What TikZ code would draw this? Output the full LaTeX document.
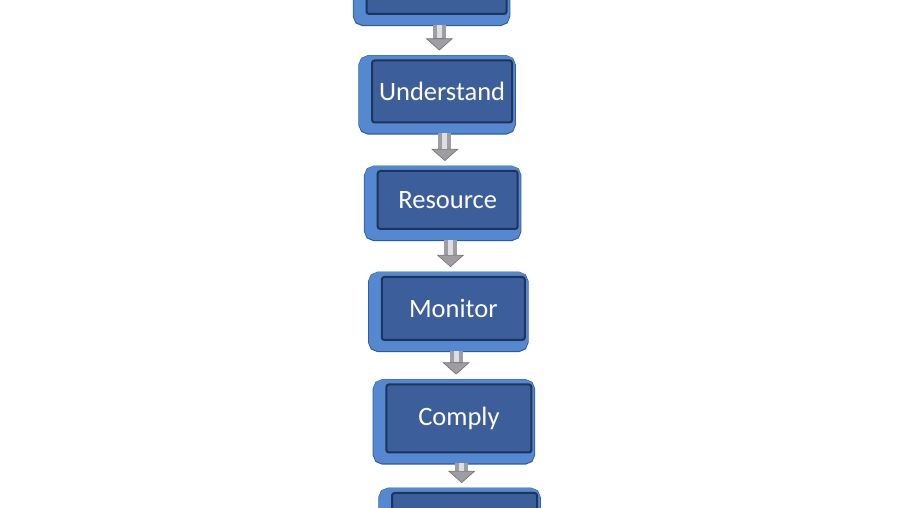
\documentclass[tikz,border=0pt]{standalone}
\usepackage{fontspec}
\setmainfont{Carlito}
\usetikzlibrary{positioning, arrows.meta}

\definecolor{stageface}{RGB}{60,94,154}
\definecolor{stagerim}{RGB}{84,136,208}
\definecolor{stageouter}{RGB}{50,88,150}
\definecolor{stageedge}{RGB}{30,52,92}
\definecolor{flowgray}{RGB}{158,158,162}
\definecolor{flowlight}{RGB}{222,222,226}

\tikzset{
  stage/.style={draw=stageedge, line width=2pt, fill=stageface, rounded corners=2.5pt,
    minimum width=140pt, minimum height=62pt, text=white,
    font=\fontsize{26.5}{30}\selectfont,
    preaction={draw=stageouter, line width=17.5pt, transform canvas={xshift=-5pt, yshift=-3.4pt}},
    preaction={draw=stagerim, line width=16pt, transform canvas={xshift=-5pt, yshift=-3pt}}},
  flow/.style={draw=flowgray, line width=13pt, shorten <=10pt, shorten >=9pt,
    -{Triangle[width=27pt, length=12pt, line width=0.6pt, fill=flowgray, color=flowgray!70!black]},
    postaction={draw=flowlight, line width=5pt, -, shorten <=10pt, shorten >=21pt}}
}

\begin{document}
\begin{tikzpicture}[x=1pt, y=1pt, node distance=108.5pt, on grid]
  \useasboundingbox (0,0) rectangle (904,508);
  \node[stage] (first) at (436.5,525) {};
  \node[stage] (und) [below right=108.5pt and 5.6pt of first] {Understand};
  \node[stage, minimum height=58pt] (res) [below right=108.5pt and 5.6pt of und] {Resource};
  \node[stage, minimum width=143pt, minimum height=63pt] (mon) [below right=108.5pt and 5.6pt of res] {Monitor};
  \node[stage, minimum width=145pt, minimum height=68pt] (com) [below right=110pt and 5.6pt of mon] {Comply};
  \node[stage, minimum width=145pt, minimum height=68pt] (last) [below right=108.5pt and 5.6pt of com] {};
  % arrows between the steps
  \draw[flow] ([xshift=2.8pt]first.south) -- ([xshift=-2.8pt]und.north);
  \draw[flow] ([xshift=2.8pt]und.south) -- ([xshift=-2.8pt]res.north);
  \draw[flow] ([xshift=2.8pt]res.south) -- ([xshift=-2.8pt]mon.north);
  \draw[flow] ([xshift=2.8pt]mon.south) -- ([xshift=-2.8pt]com.north);
  \draw[flow] ([xshift=2.8pt]com.south) -- ([xshift=-2.8pt]last.north);
\end{tikzpicture}
\end{document}
